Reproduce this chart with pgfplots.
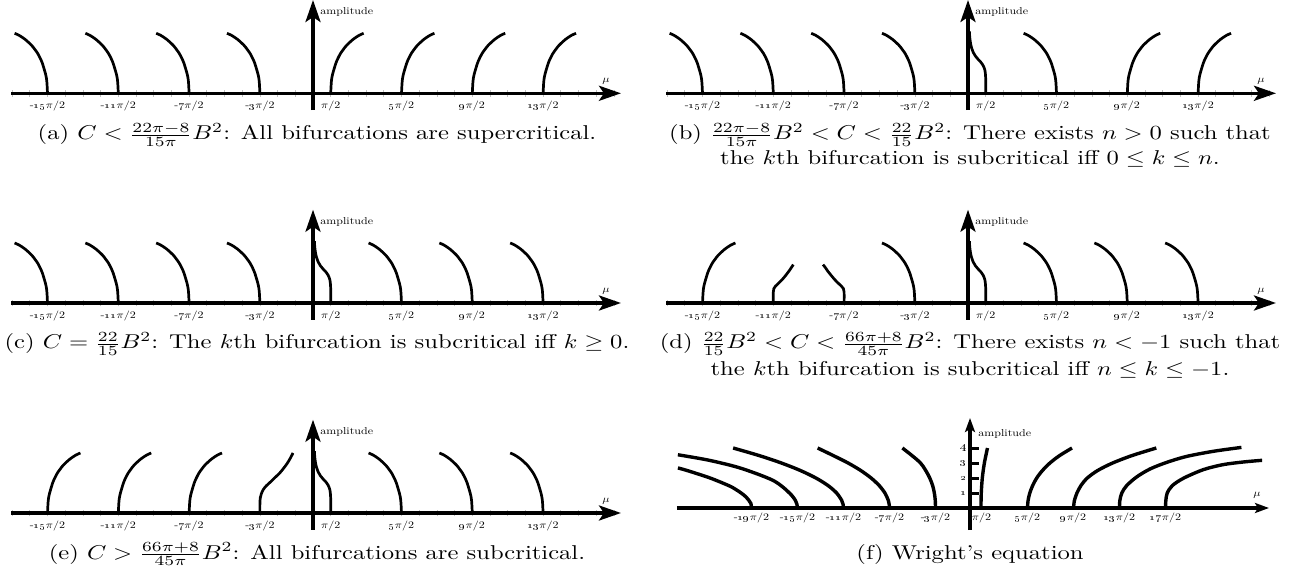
\documentclass[border=0pt]{standalone}
\usepackage{pgfplots}
\usepackage{pgfplotstable}
\usepackage{graphicx}
\pgfplotsset{compat=1.18}
\usetikzlibrary{arrows.meta}

% small labels: 10pt text squeezed, as in the (horizontally stretched) original
\newcommand{\sm}[1]{\scalebox{0.6}[0.5]{#1}}
\newcommand{\tn}[1]{\sm{-\oldstylenums{#1}$\pi/2$}}
\newcommand{\tp}[1]{\sm{\oldstylenums{#1}$\pi/2$}}
\newcommand{\capt}[1]{\scalebox{1.23}[1]{#1}}

% branch shapes, x in units of pi/2 relative to the bifurcation point, y scaled so the tall arcs reach 1
\pgfplotstableread{
x y
0 0
-0.03 0.167
-0.06 0.25
-0.12 0.333
-0.29 0.5
-0.41 0.583
-0.56 0.667
-0.72 0.733
-0.9 0.8
-1.27 0.9
-1.61 0.967
-1.86 1.0
}\shL
\pgfplotstableread{
x y
0 0
0.03 0.167
0.06 0.25
0.12 0.333
0.29 0.5
0.41 0.583
0.56 0.667
0.72 0.733
0.9 0.8
1.27 0.9
1.61 0.967
1.86 1.0
}\shR
% first branch (pi/2), absolute x
\pgfplotstableread{
x y
1 0
1 0.2
0.99 0.3
0.95 0.39
0.86 0.46
0.72 0.52
0.56 0.57
0.42 0.62
0.3 0.68
0.2 0.76
0.14 0.84
0.1 0.93
0.08 1.03
}\shP
\pgfplotstableread{
x y
0 0
0 0.18
0.03 0.24
0.12 0.28
0.3 0.33
0.5 0.39
0.7 0.46
0.88 0.53
1.02 0.59
1.13 0.64
}\shDr
\pgfplotstableread{
x y
0 0
0 0.18
-0.04 0.24
-0.15 0.28
-0.33 0.33
-0.53 0.39
-0.73 0.46
-0.92 0.53
-1.06 0.59
-1.19 0.64
}\shDl
\pgfplotstableread{
x y
0 0
0 0.15
0.02 0.25
0.08 0.32
0.19 0.39
0.35 0.45
0.57 0.51
0.85 0.59
1.13 0.67
1.35 0.75
1.55 0.83
1.73 0.92
1.87 1.0
}\shE

\pgfplotsset{
  bif/.style={
    anchor=south west, x=8.85pt, y=30pt,
    xmin=-17.05, xmax=17.4, ymin=-0.28, ymax=1.555,
    axis lines=middle, enlargelimits=false, clip=false,
    axis line style={line width=1.7pt},
    every inner x axis line/.append style={-{Stealth[length=11pt,width=7.5pt,inset=2.5pt]}},
    every inner y axis line/.append style={-{Stealth[length=11pt,width=7.5pt,inset=2.5pt]}},
    xtick={-15,-11,-7,-3,1,5,9,13},
    xticklabels={\tn{15},\tn{11},\tn{7},\tn{3},\sm{$\pi/2$},\tp{5},\tp{9},\tp{13}},
    minor xtick={-17,...,17},
    ytick=\empty,
    tick align=center, major tick length=3.4pt, minor tick length=3.4pt,
    tick style={gray!50, line width=0.35pt},
    xticklabel style={inner sep=1pt, anchor=north, yshift=-1.2pt},
  },
  bc/.style={black, line width=1.35pt, smooth, tension=0.5},
}
\newcommand{\alabels}{%
  \node[anchor=west, inner sep=0pt] at (axis cs:0.4,1.355) {\sm{amplitude}};
  \node at (axis cs:16.55,0.2) {\sm{$\mu$}};}

\begin{document}
\begin{tikzpicture}
\path[use as bounding box] (0,0) rectangle (656pt,289.5pt);

% (a)
\begin{axis}[bif, at={(5.61pt,234.45pt)}]
\addplot[bc] table[x expr=\thisrow{x}-15] {\shL};
\addplot[bc] table[x expr=\thisrow{x}-11] {\shL};
\addplot[bc] table[x expr=\thisrow{x}-7] {\shL};
\addplot[bc] table[x expr=\thisrow{x}-3] {\shL};
\addplot[bc] table[x expr=\thisrow{x}+1] {\shR};
\addplot[bc] table[x expr=\thisrow{x}+5] {\shR};
\addplot[bc] table[x expr=\thisrow{x}+9] {\shR};
\addplot[bc] table[x expr=\thisrow{x}+13] {\shR};
\alabels
\end{axis}

% (b)
\begin{axis}[bif, at={(333.11pt,234.45pt)}]
\addplot[bc] table[x expr=\thisrow{x}-15] {\shL};
\addplot[bc] table[x expr=\thisrow{x}-11] {\shL};
\addplot[bc] table[x expr=\thisrow{x}-7] {\shL};
\addplot[bc] table[x expr=\thisrow{x}-3] {\shL};
\addplot[bc] table {\shP};
\addplot[bc] table[x expr=\thisrow{x}+5] {\shL};
\addplot[bc] table[x expr=\thisrow{x}+9] {\shR};
\addplot[bc] table[x expr=\thisrow{x}+13] {\shR};
\alabels
\end{axis}

% (c)
\begin{axis}[bif, at={(5.61pt,129.6pt)}]
\addplot[bc] table[x expr=\thisrow{x}-15] {\shL};
\addplot[bc] table[x expr=\thisrow{x}-11] {\shL};
\addplot[bc] table[x expr=\thisrow{x}-7] {\shL};
\addplot[bc] table[x expr=\thisrow{x}-3] {\shL};
\addplot[bc] table {\shP};
\addplot[bc] table[x expr=\thisrow{x}+5] {\shL};
\addplot[bc] table[x expr=\thisrow{x}+9] {\shL};
\addplot[bc] table[x expr=\thisrow{x}+13] {\shL};
\alabels
\end{axis}

% (d)
\begin{axis}[bif, at={(333.11pt,129.6pt)}]
\addplot[bc] table[x expr=\thisrow{x}-15] {\shR};
\addplot[bc] table[x expr=\thisrow{x}-11] {\shDr};
\addplot[bc] table[x expr=\thisrow{x}-7] {\shDl};
\addplot[bc] table[x expr=\thisrow{x}-3] {\shL};
\addplot[bc] table {\shP};
\addplot[bc] table[x expr=\thisrow{x}+5] {\shL};
\addplot[bc] table[x expr=\thisrow{x}+9] {\shL};
\addplot[bc] table[x expr=\thisrow{x}+13] {\shL};
\alabels
\end{axis}

% (e)
\begin{axis}[bif, at={(5.61pt,24.6pt)}]
\addplot[bc] table[x expr=\thisrow{x}-15] {\shR};
\addplot[bc] table[x expr=\thisrow{x}-11] {\shR};
\addplot[bc] table[x expr=\thisrow{x}-7] {\shR};
\addplot[bc] table[x expr=\thisrow{x}-3] {\shE};
\addplot[bc] table {\shP};
\addplot[bc] table[x expr=\thisrow{x}+5] {\shL};
\addplot[bc] table[x expr=\thisrow{x}+9] {\shL};
\addplot[bc] table[x expr=\thisrow{x}+13] {\shL};
\alabels
\end{axis}

% (f) Wright's equation
\begin{axis}[
  anchor=south west, at={(338.375pt,24.475pt)}, x=5.75pt, y=7.5pt,
  xmin=-25.5, xmax=26, ymin=-1.47, ymax=6,
  axis lines=middle, enlargelimits=false, clip=false,
  axis line style={line width=1.7pt},
  every inner x axis line/.append style={-{Stealth[length=7pt,width=5pt,inset=1.5pt]}},
  every inner y axis line/.append style={-{Stealth[length=7pt,width=5pt,inset=1.5pt]}},
  xtick={-19,-15,-11,-7,-3,1,5,9,13,17},
  xticklabels={\tn{19},\tn{15},\tn{11},\tn{7},\tn{3},\sm{$\pi/2$},\tp{5},\tp{9},\tp{13},\tp{17}},
  ytick={1,2,3,4},
  yticklabels={\sm{\oldstylenums{1}},\sm{\oldstylenums{2}},\sm{\oldstylenums{3}},\sm{\oldstylenums{4}}},
  xtick style={draw=none},
  ytick style={black, line width=1.5pt},
  tick align=inside, major tick length=4.5pt,
  xticklabel style={inner sep=1pt, anchor=north, yshift=-1.2pt},
  yticklabel style={inner sep=1.5pt},
]
\addplot[black, line width=1.7pt, smooth] coordinates {(-19,0) (-19.05,0.3) (-19.22,0.5) (-19.5,0.75) (-19.9,1) (-20.5,1.3) (-21.0,1.5) (-22.6,2) (-24.6,2.5) (-25.4,2.67)};
\addplot[black, line width=1.7pt, smooth] coordinates {(-15,0) (-15.05,0.25) (-15.18,0.5) (-15.5,0.84) (-16.2,1.35) (-17.1,1.83) (-18.6,2.3) (-20.4,2.76) (-22.8,3.2) (-25.4,3.55)};
\addplot[black, line width=1.7pt, smooth] coordinates {(-11,0) (-11.04,0.25) (-11.15,0.5) (-11.6,1) (-12.35,1.5) (-13.4,2) (-14.75,2.5) (-16.4,3) (-18.35,3.5) (-20.6,4)};
\addplot[black, line width=1.7pt, smooth] coordinates {(-7,0) (-7.03,0.25) (-7.1,0.5) (-7.4,1) (-7.9,1.5) (-8.6,2) (-9.5,2.5) (-10.6,3) (-11.9,3.5) (-13.25,4)};
\addplot[black, line width=1.7pt, smooth] coordinates {(-3,0) (-3.02,0.5) (-3.1,1) (-3.25,1.5) (-3.5,2) (-3.85,2.5) (-4.3,3) (-5.05,3.5) (-5.88,4)};
\addplot[black, line width=1.7pt, smooth] coordinates {(0.95,0) (0.98,1) (1.07,2) (1.25,3) (1.52,4)};
\addplot[black, line width=1.7pt, smooth] coordinates {(5,0) (5.05,0.5) (5.2,1) (5.45,1.5) (5.8,2) (6.3,2.5) (6.95,3) (7.8,3.5) (8.87,4)};
\addplot[black, line width=1.7pt, smooth] coordinates {(9,0) (9.08,0.5) (9.3,1) (9.65,1.5) (10.2,2) (11.1,2.5) (12.4,3) (14.1,3.5) (16.2,4)};
\addplot[black, line width=1.7pt, smooth] coordinates {(13,0) (13.03,0.5) (13.2,1) (13.62,1.49) (14.49,2.07) (15.65,2.6) (17.1,3.04) (18.84,3.44) (21.16,3.78) (23.6,4.04)};
\addplot[black, line width=1.7pt, smooth] coordinates {(17,0) (17.03,0.5) (17.15,1) (17.6,1.5) (18.6,2) (20.3,2.56) (22.0,2.89) (23.8,3.07) (25.4,3.18)};
\node[anchor=west, inner sep=0pt] at (axis cs:0.7,4.93) {\sm{amplitude}};
\node at (axis cs:24.96,0.87) {\sm{$\mu$}};
\end{axis}

% captions
\node[anchor=base] at (158.5pt,219.5pt) {\capt{(a) $C<\frac{22\pi-8}{15\pi}B^2$: All bifurcations are supercritical.}};
\node[anchor=base] at (485pt,219.5pt) {\capt{(b) $\frac{22\pi-8}{15\pi}B^2<C<\frac{22}{15}B^2$: There exists $n>0$ such that}};
\node[anchor=base] at (485pt,207pt) {\capt{the $k$th bifurcation is subcritical iff $0\le k\le n$.}};
\node[anchor=base] at (158.5pt,115pt) {\capt{(c) $C=\frac{22}{15}B^2$: The $k$th bifurcation is subcritical iff $k\ge 0$.}};
\node[anchor=base] at (485pt,115pt) {\capt{(d) $\frac{22}{15}B^2<C<\frac{66\pi+8}{45\pi}B^2$: There exists $n<-1$ such that}};
\node[anchor=base] at (485pt,102pt) {\capt{the $k$th bifurcation is subcritical iff $n\le k\le -1$.}};
\node[anchor=base] at (158.5pt,10pt) {\capt{(e) $C>\frac{66\pi+8}{45\pi}B^2$: All bifurcations are subcritical.}};
\node[anchor=base] at (485pt,10pt) {\capt{(f) Wright’s equation}};
\end{tikzpicture}
\end{document}
